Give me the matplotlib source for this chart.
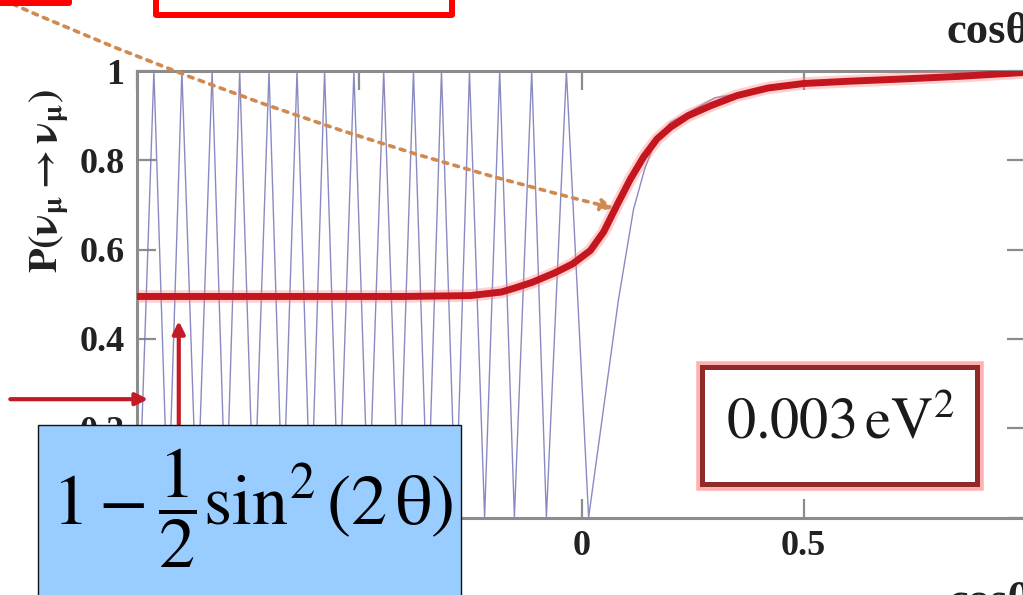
import numpy as np
import matplotlib.pyplot as plt
from matplotlib.patches import Rectangle

plt.rcParams['font.family'] = ['Liberation Serif', 'DejaVu Serif']
plt.rcParams['mathtext.fontset'] = 'stix'

W, H = 1023, 595

# --- values ---
# fast oscillation (blue): positions of minima (P=0) and maxima (P=1)
blue_dip_x = [-0.996, -0.930, -0.865, -0.800, -0.737, -0.672, -0.609, -0.546,
              -0.479, -0.411, -0.346, -0.283, -0.218, -0.151, -0.079, 0.016]
blue_peak_x = [-0.962, -0.899, -0.831, -0.769, -0.703, -0.640, -0.578, -0.512,
               -0.445, -0.378, -0.315, -0.252, -0.184, -0.112, -0.034]
# rise after the last minimum (mostly hidden under the red curve)
blue_tail_x = [0.083, 0.117, 0.142, 0.165, 0.20, 0.30, 0.50, 1.0]
blue_tail_y = [0.487, 0.69, 0.78, 0.84, 0.885, 0.94, 0.975, 0.998]

# averaged probability (red)
red_x = [-1.0, -0.40, -0.25, -0.18, -0.15, -0.11, -0.06, -0.02, 0.02, 0.05, 0.08,
         0.11, 0.14, 0.17, 0.20, 0.24, 0.29, 0.35, 0.42, 0.50, 0.60, 0.72, 0.85, 1.0]
red_y = [0.495, 0.495, 0.497, 0.505, 0.514, 0.527, 0.548, 0.568, 0.598, 0.640, 0.700,
         0.758, 0.808, 0.848, 0.874, 0.900, 0.922, 0.945, 0.962, 0.972, 0.977, 0.982,
         0.988, 0.997]

x_ticks = [-1, -0.5, 0, 0.5, 1]
x_tick_labels = ['-1', '-0.5', '0', '0.5', '']
y_ticks = [0, 0.2, 0.4, 0.6, 0.8, 1]
y_tick_labels = ['0', '0.2', '0.4', '0.6', '0.8', '1']


def fx(px):
    return px / W


def fy(py):
    return 1 - py / H


fig = plt.figure(figsize=(W / 100, H / 100), dpi=100)
ax = fig.add_axes([fx(137), fy(517.5), (1026 - 137) / W, (517.5 - 71) / H])

# oscillating curve
osc_x = np.empty(len(blue_dip_x) + len(blue_peak_x))
osc_x[0::2] = blue_dip_x
osc_x[1::2] = blue_peak_x
osc_y = np.zeros_like(osc_x)
osc_y[1::2] = 1.0
osc_x = np.concatenate([osc_x, blue_tail_x])
osc_y = np.concatenate([osc_y, blue_tail_y])
ax.plot(osc_x, osc_y, color='#7676b8', lw=1.0, alpha=0.85, zorder=2)

# averaged curve
ax.plot(red_x, red_y, color='#ff7a7a', lw=9, alpha=0.35, solid_capstyle='butt',
        solid_joinstyle='round', zorder=3)
ax.plot(red_x, red_y, color='#c4161e', lw=5, solid_capstyle='butt',
        solid_joinstyle='round', zorder=4)

ax.set_xlim(-1, 1)
ax.set_ylim(0, 1)
ax.set_xticks(x_ticks)
ax.set_xticklabels(x_tick_labels)
ax.set_yticks(y_ticks)
ax.set_yticklabels(y_tick_labels)
ax.tick_params(direction='in', length=14, width=1.6, color='#8c8c8c',
               top=True, right=True, labelsize=26, pad=9, labelcolor='#222222')
for lbl in ax.get_xticklabels() + ax.get_yticklabels():
    lbl.set_fontweight('bold')
for sp in ax.spines.values():
    sp.set_color('#8c8c8c')
    sp.set_linewidth(2.2)

# orange dotted arrow
ax.annotate('', xy=(0.072, 0.693), xytext=(-1.303, 1.16),
            arrowprops=dict(arrowstyle='-|>', color='#d08a50', lw=2.6,
                            linestyle=(0, (1.3, 1.8)), mutation_scale=18,
                            connectionstyle='arc3,rad=0.045', shrinkA=0, shrinkB=0),
            annotation_clip=False, zorder=6)

# red arrows
ax.annotate('', xy=(-0.975, 0.265), xytext=(-1.285, 0.265),
            arrowprops=dict(arrowstyle='-|>', color='#c41a26', lw=3,
                            mutation_scale=18, shrinkA=0, shrinkB=0),
            annotation_clip=False, zorder=7)
ax.annotate('', xy=(-0.906, 0.44), xytext=(-0.906, 0.12),
            arrowprops=dict(arrowstyle='-|>', color='#c41a26', lw=3,
                            mutation_scale=18, shrinkA=0, shrinkB=0),
            annotation_clip=False, zorder=7)

# y label and cos(theta) labels
fig.text(fx(50), fy(181), r'$\mathbf{P(\nu_{\mu}\rightarrow\nu_{\mu})}$',
         rotation=90, fontsize=29, ha='center', va='center', color='#222222')
fig.text(fx(946), fy(43), 'cosθ', fontsize=32, fontweight='bold',
         ha='left', va='baseline', color='#222222')
fig.text(fx(948), fy(582), 'cosθ', fontsize=32, fontweight='bold',
         ha='left', va='top', color='#222222')

# red boxes cropped at the top
fig.add_artist(Rectangle((fx(-60), fy(3)), (69 + 60) / W, 60 / H,
                         transform=fig.transFigure, fill=False,
                         edgecolor='#ff0000', lw=4.3, joinstyle='round'))
fig.add_artist(Rectangle((fx(156), fy(15)), (452 - 156) / W, 80 / H,
                         transform=fig.transFigure, facecolor='white',
                         edgecolor='#ff0000', lw=4.3, joinstyle='round'))

# delta m^2 box
fig.add_artist(Rectangle((fx(702), fy(484)), (977 - 702) / W, (484 - 367) / H,
                         transform=fig.transFigure, facecolor='white',
                         edgecolor='#ffb0b0', lw=9, zorder=8))
fig.add_artist(Rectangle((fx(702), fy(484)), (977 - 702) / W, (484 - 367) / H,
                         transform=fig.transFigure, facecolor='white',
                         edgecolor='#8e2a2a', lw=3.6, zorder=9))
fig.text(fx(840), fy(424), r'$0.003\,\mathrm{eV}^2$', fontsize=42,
         ha='center', va='center', color='#1a1a1a', zorder=10)

# formula box
fig.add_artist(Rectangle((fx(38), fy(620)), (461 - 38) / W, (620 - 425) / H,
                         transform=fig.transFigure, facecolor='#99ccff',
                         edgecolor='#111111', lw=1.0, zorder=11))
fig.text(fx(253), fy(508), r'$1-\dfrac{1}{2}\sin^2(2\,\mathrm{θ})$', fontsize=52,
         ha='center', va='center', color='black', zorder=12)

fig.savefig('out.png', dpi=100)
